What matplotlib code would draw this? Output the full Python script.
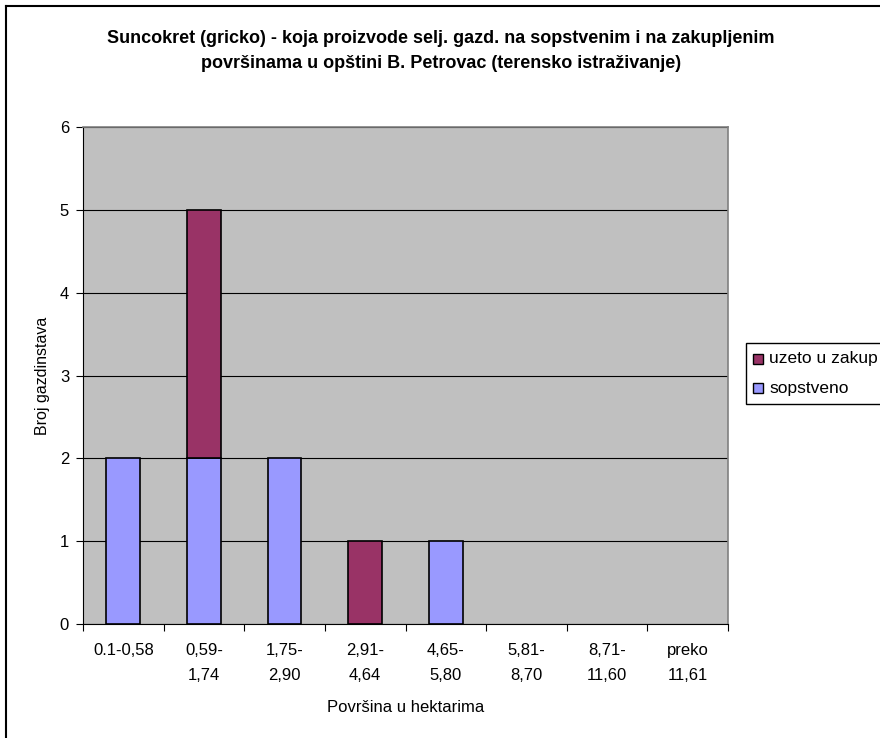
import matplotlib
matplotlib.use("Agg")
import matplotlib.pyplot as plt
import numpy as np
from matplotlib.lines import Line2D
from matplotlib.patches import Rectangle

plt.rcParams['font.family'] = ['Liberation Sans', 'DejaVu Sans']

# categories (area ranges in hectares) and household counts
categories = ["0.1-0,58", "0,59-\n1,74", "1,75-\n2,90", "2,91-\n4,64", "4,65-\n5,80",
              "5,81-\n8,70", "8,71-\n11,60", "preko\n11,61"]
sopstveno = [2, 2, 2, 0, 1, 0, 0, 0]
zakup = [0, 3, 0, 1, 0, 0, 0, 0]

title = ("Suncokret (gricko) - koja proizvode selj. gazd. na sopstvenim i na zakupljenim\n"
         "površinama u opštini B. Petrovac (terensko istraživanje)")

c_own = "#9999FF"
c_rent = "#993366"

W, H = 880, 738
fig = plt.figure(figsize=(W / 100, H / 100), dpi=100)
ax = fig.add_axes([83 / W, 1 - 624 / H, (728 - 83) / W, (624 - 127) / H])
ax.set_facecolor("#C0C0C0")

x = np.arange(len(categories)) + 0.5
own = np.array(sopstveno, dtype=float)
rent = np.array(zakup, dtype=float)
bw = 0.42
# skip empty segments so no flat outline is drawn on the axis
m1 = own > 0
m2 = rent > 0
ax.bar(x[m1], own[m1], width=bw, color=c_own, edgecolor="black", linewidth=1.2, zorder=3)
ax.bar(x[m2], rent[m2], width=bw, bottom=own[m2], color=c_rent, edgecolor="black",
       linewidth=1.2, zorder=3)

ax.set_xlim(0, len(categories))
ax.set_ylim(0, 6)
ax.set_yticks(range(7))
ax.yaxis.grid(True, color="black", linewidth=0.8, zorder=1)
ax.set_axisbelow(True)

# category boundaries carry the tick marks, labels sit between them
ax.set_xticks(range(len(categories) + 1))
ax.set_xticklabels([])
ax.set_xticks(x, minor=True)
ax.set_xticklabels(categories, minor=True, fontsize=12, linespacing=1.8, va="top")
ax.tick_params(axis="x", which="minor", length=0, pad=14)
ax.tick_params(axis="x", which="major", length=5, direction="out", color="black")
ax.tick_params(axis="y", length=5, direction="out", labelsize=12, pad=5)

for s in ["top", "right"]:
    ax.spines[s].set_color("#808080")
    ax.spines[s].set_linewidth(1.2)
ax.spines["left"].set_color("black")
ax.spines["bottom"].set_color("black")

ax.set_xlabel("Površina u hektarima", fontsize=12, labelpad=12)
ax.set_ylabel("Broj gazdinstava", fontsize=11.5, labelpad=7)

fig.text(441 / W, 1 - 51 / H, title, ha="center", va="center", fontsize=13,
         fontweight="bold", linespacing=1.55)

# legend box, clipped at the right edge of the chart area
lx0, ly0, ly1 = 746, 343, 404
fig.add_artist(Rectangle((lx0 / W, 1 - ly1 / H), (W + 10 - lx0) / W, (ly1 - ly0) / H,
                         transform=fig.transFigure, facecolor="white",
                         edgecolor="black", linewidth=1.0))
for (label, col), yy in zip([("uzeto u zakup", c_rent), ("sopstveno", c_own)], [359, 388]):
    fig.add_artist(Rectangle((753 / W, 1 - (yy + 5) / H), 10 / W, 10 / H,
                             transform=fig.transFigure, facecolor=col,
                             edgecolor="black", linewidth=1.0))
    fig.text(769 / W, 1 - yy / H, label, fontsize=12.5, va="center", ha="left")

# outer chart frame (left and top edges)
fig.add_artist(Line2D([6 / W, 6 / W], [0, 1 - 6 / H], transform=fig.transFigure,
                      color="black", linewidth=1.5))
fig.add_artist(Line2D([6 / W, 1], [1 - 6 / H, 1 - 6 / H], transform=fig.transFigure,
                      color="black", linewidth=1.5))

fig.savefig("out.png", dpi=100)
